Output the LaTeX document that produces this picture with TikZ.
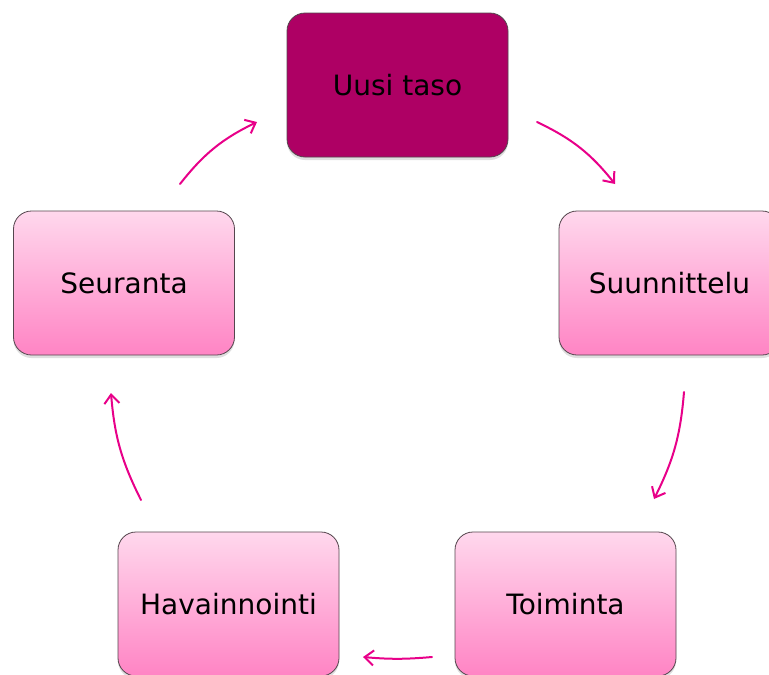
\documentclass[tikz,border=0pt]{standalone}
\usepackage{fontspec}
\setmainfont{DejaVu Sans}
\usetikzlibrary{arrows.meta,shadows}
\definecolor{darkmag}{RGB}{174,0,100}
\definecolor{pinktop}{RGB}{255,216,237}
\definecolor{pinkbot}{RGB}{255,132,196}
\definecolor{arrowpink}{RGB}{232,0,137}
\definecolor{edgegray}{RGB}{85,70,78}
\begin{document}
\begin{tikzpicture}[x=1pt,y=-1pt,
  box/.style={rounded corners=18pt, draw=edgegray, line width=0.8pt,
    minimum width=221pt, minimum height=144pt, inner sep=0pt,
    font=\fontsize{28}{33}\selectfont,
    drop shadow={shadow xshift=0pt, shadow yshift=-3pt, opacity=0.25}},
  pinkbox/.style={box, top color=pinktop, bottom color=pinkbot},
  darkbox/.style={box, fill=darkmag},
  cyc/.style={draw=arrowpink, line width=2pt, line cap=round,
    -{Straight Barb[length=9pt,width=15pt]}}]
\useasboundingbox (0,0) rectangle (769,675);
\fill[white] (0,0) rectangle (769,675);

\node[darkbox] (uusi) at (397.5,85) {Uusi taso};
\node[pinkbox] (suun) at (669.5,283) {Suunnittelu};
\node[pinkbox] (toim) at (565.5,604) {Toiminta};
\node[pinkbox] (hav) at (228.5,604) {Havainnointi};
\node[pinkbox] (seur) at (124,283) {Seuranta};

\coordinate (a1s) at (537,122); \coordinate (a1e) at (615,184);
\coordinate (a2s) at (684,392); \coordinate (a2e) at (654,499);
\coordinate (a3s) at (432,657); \coordinate (a3e) at (363,657);
\coordinate (a4s) at (141,500); \coordinate (a4e) at (111,393);
\coordinate (a5s) at (180,184); \coordinate (a5e) at (257,122);

\draw[cyc] (a1s) to[bend left=13] (a1e);
\draw[cyc] (a2s) to[bend left=11] (a2e);
\draw[cyc] (a3s) to[bend left=5] (a3e);
\draw[cyc] (a4s) to[bend left=11] (a4e);
\draw[cyc] (a5s) to[bend left=13] (a5e);
\end{tikzpicture}
\end{document}
